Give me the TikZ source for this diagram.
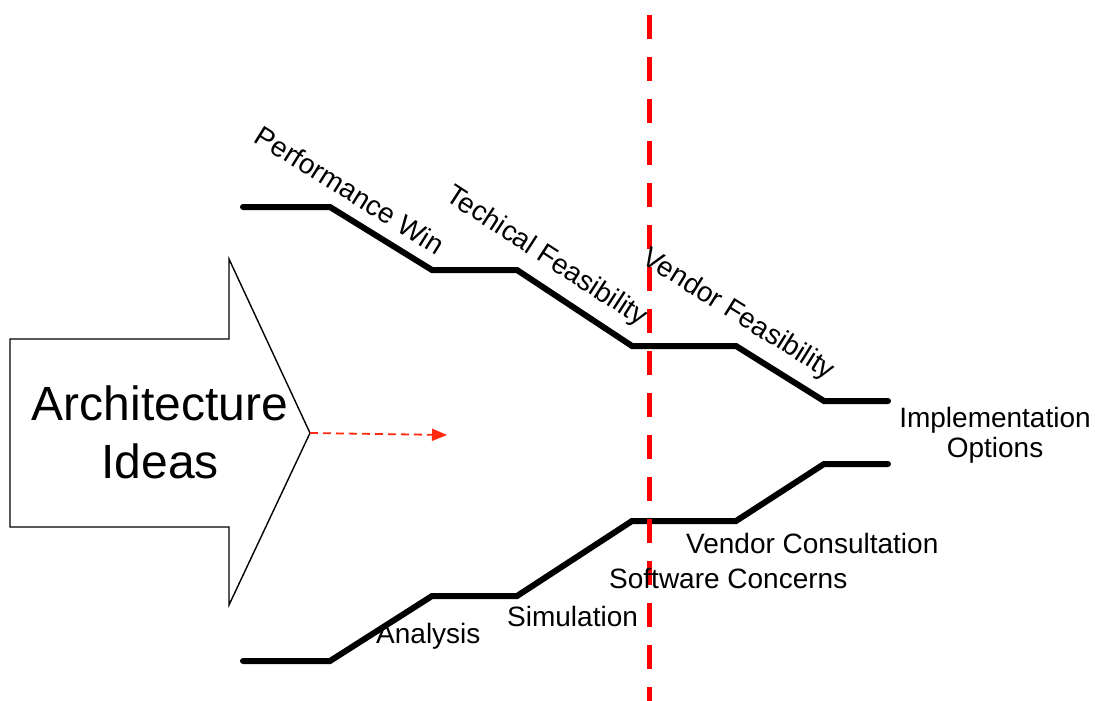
\documentclass[tikz,border=0pt]{standalone}
\usepackage{fontspec}
\setmainfont{Liberation Sans}
\usetikzlibrary{arrows.meta}
\definecolor{dashred}{HTML}{FF0000}
\definecolor{arrred}{HTML}{FF2A10}
\tikzset{
  stair/.style={line width=6pt, line cap=round, line join=miter},
  lbl/.style={inner sep=0pt, font=\fontsize{28}{30}\selectfont},
  bigarrow/.style={draw=black, line width=1.4pt, fill=white, line join=miter},
  divider/.style={draw=dashred, line width=5pt, dash pattern=on 24pt off 18pt},
  smallarrow/.style={draw=arrred, line width=1.8pt, dash pattern=on 8pt off 5pt, -{Triangle[length=15pt,width=12pt,fill=arrred]}}
}
\begin{document}
\begin{tikzpicture}[x=1pt,y=-1pt]
\useasboundingbox (0,0) rectangle (1095,701);
% big arrow
\draw[bigarrow] (10,339) -- (229,339) -- (229,259) -- (310,433) -- (229,605) -- (229,527) -- (10,527) -- cycle;
\coordinate (tip) at (310,433);
\coordinate (aend) at (447,435);
\node[inner sep=0pt, align=center, font=\fontsize{48}{58}\selectfont] (ideas) at (160,432) {Architecture\\Ideas};
\draw[smallarrow] (tip) -- (aend);
% stairs
\draw[stair] (243,207) -- (330,207) -- (432,270) -- (517,270) -- (632,346) -- (736,346) -- (824,401) -- (888,401);
\draw[stair] (243,661) -- (330,661) -- (432,596) -- (517,596) -- (632,521) -- (736,521) -- (824,464) -- (888,464);
% divider
\coordinate (dtop) at (649,15);
\coordinate (dbot) at (649,701);
\draw[divider] (dtop) -- (dbot);
% rotated labels
\node[lbl, rotate=-32] (perf) at (350,190) {Performance Win};
\node[lbl, rotate=-33] (tech) at (546,257) {Techical Feasibility};
\node[lbl, rotate=-32] (vend) at (738,315) {Vendor Feasibility};
% right label
\node[lbl, align=center] (impl) at (995,435) {Implementation\\Options};
% lower labels
\node[lbl, anchor=base west] (vc) at (686,553) {Vendor Consultation};
\node[lbl, anchor=base west] (sc) at (609,588) {Software Concerns};
\node[lbl, anchor=base west] (sim) at (507,626) {Simulation};
\node[lbl, anchor=base west] (ana) at (376,643) {Analysis};
\end{tikzpicture}
\end{document}
